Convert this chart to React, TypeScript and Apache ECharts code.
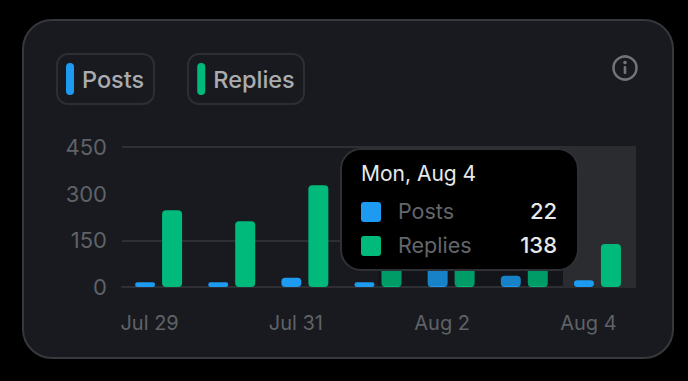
import React, { useEffect, useRef } from "react";
import * as echarts from "echarts";

const categories = ["Jul 29", "Jul 30", "Jul 31", "Aug 1", "Aug 2", "Aug 3", "Aug 4"];
const posts = [15, 15, 30, 15, 70, 36, 22];
const replies = [247, 211, 327, 165, 190, 200, 138];
const yTicks = [0, 150, 300, 450];
const hoverIndex = 6;
const hoverTitle = "Mon, Aug 4";

const FONT = "Inter, 'Noto Sans', sans-serif";
const BLUE = "#1d9bf0";
const GREEN = "#00ba7c";
const PILL = "path://M4 0a4 4 0 0 1 4 4v24a4 4 0 0 1-8 0V4a4 4 0 0 1 4-4z";

export default function App() {
  const ref = useRef<HTMLDivElement>(null);
  useEffect(() => {
    document.body.style.margin = "0";
    document.body.style.background = "#000";
    const chart = echarts.init(ref.current!, null, { renderer: "svg" });
    const gridCol = "#2d2f34";
    chart.setOption({
      animation: false,
      backgroundColor: "#000",
      textStyle: { fontFamily: FONT },
      grid: { left: 122, right: 54, top: 147, bottom: 94 },
      legend: {
        left: 66,
        top: 63,
        padding: 0,
        itemWidth: 8,
        itemHeight: 32,
        itemGap: 53,
        selectedMode: false,
        icon: PILL,
        data: ["Posts", "Replies"],
        textStyle: { color: "#aaacb0", fontSize: 23.5, fontFamily: FONT, fontWeight: 500, padding: [0, 0, 0, 3] },
      },
      xAxis: {
        type: "category",
        data: categories,
        axisTick: { show: false },
        axisLine: { lineStyle: { color: gridCol, width: 2 } },
        axisLabel: {
          interval: 1,
          color: "#5f6267",
          fontSize: 20,
          fontFamily: FONT,
          margin: 26,
          padding: [0, 18, 0, 0],
        },
      },
      yAxis: {
        type: "value",
        min: yTicks[0],
        max: yTicks[3],
        interval: 150,
        axisLine: { show: false },
        axisTick: { show: false },
        axisLabel: { color: "#5f6267", fontSize: 22, fontFamily: FONT, margin: 15 },
        splitLine: { lineStyle: { color: [gridCol, gridCol, "transparent", gridCol], width: 2 } },
      },
      series: [
        {
          name: "Posts",
          type: "bar",
          z: 5,
          data: posts,
          barWidth: 20,
          barGap: "35%",
          itemStyle: { color: BLUE, borderRadius: 4 },
        },
        {
          name: "Replies",
          type: "bar",
          z: 5,
          data: replies,
          barWidth: 20,
          itemStyle: { color: GREEN, borderRadius: 4 },
        },
      ],
      graphic: [
        { type: "rect", z: -10, shape: { x: 23, y: 20, width: 650, height: 338, r: 29 }, style: { fill: "#181a1f", stroke: "#36383d", lineWidth: 2 } },
        { type: "rect", z: -5, shape: { x: 57, y: 54, width: 97, height: 50, r: 11 }, style: { fill: "transparent", stroke: "#2c2e33", lineWidth: 2 } },
        { type: "rect", z: -5, shape: { x: 188, y: 54, width: 116, height: 50, r: 11 }, style: { fill: "transparent", stroke: "#2c2e33", lineWidth: 2 } },
        { type: "rect", z: 1, shape: { x: 563, y: 146, width: 73, height: 142 }, style: { fill: "#2b2c30" } },
        { type: "circle", z: 5, shape: { cx: 625, cy: 68, r: 11.5 }, style: { fill: "transparent", stroke: "#717479", lineWidth: 2.5 } },
        { type: "circle", z: 5, shape: { cx: 625, cy: 62.5, r: 1.8 }, style: { fill: "#717479" } },
        { type: "rect", z: 5, shape: { x: 623.7, y: 66, width: 2.6, height: 8, r: 1 }, style: { fill: "#717479" } },
        { type: "rect", z: 50, shape: { x: 378, y: 262, width: 185, height: 24 }, style: { fill: "rgba(0,0,0,0.16)" } },
        { type: "rect", z: 60, shape: { x: 341, y: 149, width: 237, height: 121, r: 20 }, style: { fill: "#000", stroke: "#2e3035", lineWidth: 2 } },
        { type: "text", z: 61, x: 361, y: 173, style: { text: hoverTitle, fill: "#e7e9ea", font: `21px ${FONT}`, verticalAlign: "middle" } },
        { type: "rect", z: 61, shape: { x: 361, y: 202, width: 20, height: 20, r: 3 }, style: { fill: BLUE } },
        { type: "rect", z: 61, shape: { x: 361, y: 236, width: 20, height: 20, r: 3 }, style: { fill: GREEN } },
        { type: "text", z: 61, x: 398, y: 211, style: { text: "Posts", fill: "#63666b", font: `21.5px ${FONT}`, verticalAlign: "middle" } },
        { type: "text", z: 61, x: 398, y: 245, style: { text: "Replies", fill: "#63666b", font: `21.5px ${FONT}`, verticalAlign: "middle" } },
        { type: "text", z: 61, x: 557, y: 211, style: { text: String(posts[hoverIndex]), fill: "#e7e9ea", font: `500 22px ${FONT}`, align: "right", verticalAlign: "middle" } },
        { type: "text", z: 61, x: 557, y: 245, style: { text: String(replies[hoverIndex]), fill: "#e7e9ea", font: `500 22px ${FONT}`, align: "right", verticalAlign: "middle" } },
      ],
    });
    return () => chart.dispose();
  }, []);
  return <div ref={ref} style={{ width: 688, height: 381 }} />;
}
